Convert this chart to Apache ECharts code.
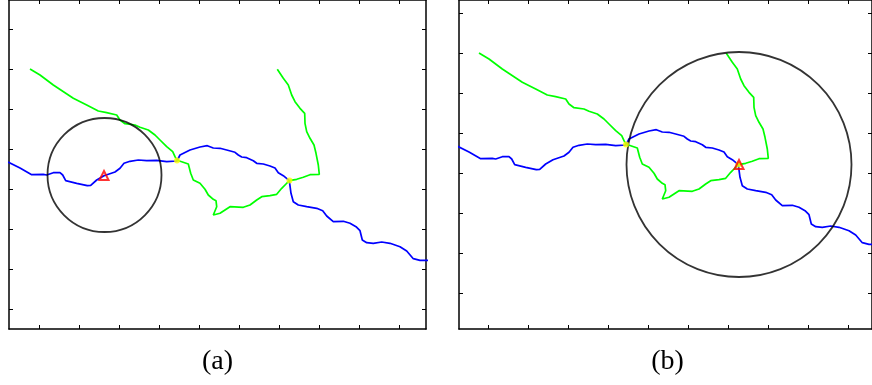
<!DOCTYPE html>
<html><head><meta charset="utf-8">
<script src="https://cdn.jsdelivr.net/npm/echarts@6/dist/echarts.min.js"></script>
<style>html,body{margin:0;padding:0;background:#fff}#c{width:872px;height:385px}</style>
</head><body><div id="c"></div><script>
// ---- data ----
const xTicks = [0, 40, 80, 120, 160, 200, 240, 280, 320, 360];
const yTicks = [0, 40, 80, 120, 160, 200, 240, 280];
const panelLabels = ['(a)', '(b)'];
const blueRiver = [
  [-31,133],[-19,139],[-7.3,145.7],[4.3,145.3],[7.7,146],[14.3,143.7],[21,143.7],[23.7,146],[26.7,151.7],
  [37.7,154.3],[48.3,156.7],[51.7,156.3],[57.7,151],[65,146.7],[76,143],[81,139.3],[85,134.3],[91,132.3],
  [99.3,131],[107.7,131.7],[117.7,131.3],[127.7,132.7],[138,132],[141,126],[151,121],[161,118],[168.3,116.7],
  [174.3,119],[181,119.3],[187.7,121],[196,123.3],[199.3,126],[202.7,128],[207.7,128.7],[214.3,131.7],
  [217.7,134.3],[224.3,135],[231,137],[236,139],[239.3,143.7],[244.3,146.7],[250.3,151.7],[252,164.3],
  [254.3,172.7],[259.3,176],[267.7,177.7],[277.7,179.3],[283.7,181.7],[287.7,187],[294.3,192.7],[304.3,192.3],
  [311,194.3],[317,197.7],[321,201.7],[323.3,211],[327.7,213.7],[334.3,214.3],[342.7,213],[351,214.3],
  [361,217.7],[367.7,222],[374.3,229.7],[381,231.3],[390,231.3]
];
const greenRiver = [
  [-9,40],[1,46],[14.3,56],[34.3,69.3],[47.7,76],[59.3,82],[67.7,83.7],[77.7,86],[81,91],[86,94.7],[96,96],
  [101,98.3],[109.3,101],[116,106],[121,111],[127.7,117.7],[133.7,122.7],[136,127.7],[138,131.3],
  [142.7,132.7],[149.3,135],[151.7,144.3],[154.3,151],[161,154.3],[166,160.3],[169.3,166],[174.3,170.3],
  [177,171.7],[177.7,177.7],[174.3,186],[181,184.3],[186,181],[191,177.7],[204.3,178.3],[211,176],
  [217.7,171],[222.7,167.7],[231,166.7],[237.7,165.3],[242.7,159.3],[247,155],[250.3,151.7],
  [257.7,150.3],[264.3,148.3],[271,145.7],[280.3,145.3],[279.3,136],[277,124.3],[275,116],[271,109.3],
  [267.7,102.7],[266,94.3],[265.7,84.3],[261,79.3],[256,72.7],[252.7,66],[249.3,56],[244.3,49.3],[238.3,40.3]
];
const junctions = [[138,131.5],[250.5,151.5]];
const outlets = [[65,146.5],[251,151.5]];
const circleCenters = [[65.5,146],[251,151.5]];
const circleRadii = [57, 112.5];

// ---- layout ----
const panels = [
  {left: 9, top: 0, width: 417, height: 329, xMin: -30, xMax: 387, yMin: -29, yMax: 300},
  {left: 459, top: 0, width: 413, height: 329, xMin: -29, xMax: 384, yMin: -13, yMax: 316}
];
const axisLineStyle = {color: '#000', width: 1.5};
const grids = [], xAxes = [], yAxes = [], series = [], graphics = [];
panels.forEach((p, i) => {
  grids.push({left: p.left, top: p.top, width: p.width, height: p.height, containLabel: false});
  ['bottom', 'top'].forEach(pos => xAxes.push({
    type: 'value', gridIndex: i, position: pos, min: p.xMin, max: p.xMax,
    axisLine: {show: true, onZero: false, lineStyle: axisLineStyle},
    axisTick: {show: true, inside: true, length: 4, customValues: xTicks, lineStyle: {color: '#000', width: 1}},
    axisLabel: {show: false}, splitLine: {show: false}
  }));
  ['left', 'right'].forEach(pos => yAxes.push({
    type: 'value', gridIndex: i, position: pos, inverse: true, min: p.yMin, max: p.yMax,
    axisLine: {show: true, onZero: false, lineStyle: axisLineStyle},
    axisTick: {show: true, inside: true, length: 4, customValues: yTicks, lineStyle: {color: '#000', width: 1}},
    axisLabel: {show: false}, splitLine: {show: false}
  }));
  const xi = 2 * i, yi = 2 * i;
  const pxPerUnit = p.width / (p.xMax - p.xMin);
  series.push({type: 'line', xAxisIndex: xi, yAxisIndex: yi, data: blueRiver, showSymbol: false,
    lineStyle: {color: '#0000ff', width: 1.7}, z: 2, silent: true});
  series.push({type: 'line', xAxisIndex: xi, yAxisIndex: yi, data: greenRiver, showSymbol: false,
    lineStyle: {color: '#00ff00', width: 1.7}, z: 3, silent: true});
  series.push({type: 'scatter', xAxisIndex: xi, yAxisIndex: yi, data: [circleCenters[i]],
    symbol: 'circle', symbolSize: 2 * circleRadii[i] * pxPerUnit,
    itemStyle: {color: 'rgba(0,0,0,0)', borderColor: '#000', borderWidth: 1.8}, z: 4, silent: true});
  series.push({type: 'scatter', xAxisIndex: xi, yAxisIndex: yi, data: junctions,
    symbol: 'circle', symbolSize: 6, itemStyle: {color: '#ffff00'}, z: 5, silent: true});
  series.push({type: 'scatter', xAxisIndex: xi, yAxisIndex: yi, data: [outlets[i]],
    symbol: 'triangle', symbolSize: 9,
    itemStyle: {color: 'rgba(0,0,0,0)', borderColor: '#ff0000', borderWidth: 2}, z: 6, silent: true});
  graphics.push({type: 'text', x: p.left + 417 / 2, y: 362,
    style: {text: panelLabels[i], font: '28px "Liberation Serif", "DejaVu Serif", serif', fill: '#000',
      align: 'center', verticalAlign: 'middle'}});
});

const chart = echarts.init(document.getElementById('c'), null, {renderer: 'canvas'});
chart.setOption({
  animation: false, backgroundColor: '#fff',
  grid: grids, xAxis: xAxes, yAxis: yAxes, series: series, graphic: graphics
});
</script></body></html>
